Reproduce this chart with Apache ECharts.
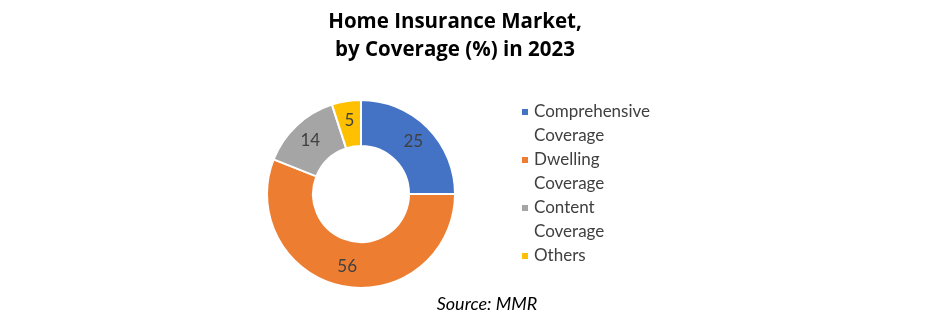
<!DOCTYPE html>
<html><head><meta charset="utf-8">
<script src="https://cdn.jsdelivr.net/npm/echarts@6/dist/echarts.min.js"></script>
<style>html,body{margin:0;padding:0;background:#fff}#c{width:940px;height:324px}</style>
</head><body><div id="c"></div>
<script>
const categories = ['Comprehensive Coverage', 'Dwelling Coverage', 'Content Coverage', 'Others'];
const values = [25, 56, 14, 5];
const colors = ['#4472C4', '#ED7D31', '#A5A5A5', '#FFC000'];
const titleText = 'Home Insurance Market,\nby Coverage (%) in 2023';
const sourceText = 'Source: MMR';

const FONT = 'Lato';
const chart = echarts.init(document.getElementById('c'), null, {renderer: 'canvas'});
chart.setOption({
  animation: false,
  backgroundColor: '#ffffff',
  color: colors,
  title: [{
    text: titleText,
    left: 450, top: 3, textAlign: 'center',
    textStyle: {fontFamily: 'Open Sans', fontWeight: 'bold', fontSize: 20.5, lineHeight: 28, color: '#000'}
  }, {
    text: sourceText,
    left: 482, top: 290, textAlign: 'center',
    textStyle: {fontFamily: FONT, fontStyle: 'italic', fontWeight: 'normal', fontSize: 18, color: '#000'}
  }],
  legend: {
    orient: 'vertical', left: 520, top: 76, padding: 0,
    itemWidth: 8, itemHeight: 8, itemGap: -24, icon: 'rect',
    data: categories,
    formatter: function (n) {
      const i = n.indexOf(' ');
      return i >= 0 ? ' \n' + n.slice(0, i) + '\n' + n.slice(i + 1) : ' \n' + n + '\n ';
    },
    textStyle: {fontFamily: FONT, fontSize: 17, lineHeight: 24, color: '#404040'}
  },
  series: [{
    type: 'pie',
    center: [361, 194],
    radius: [48, 94],
    startAngle: 90,
    clockwise: true,
    itemStyle: {borderColor: '#fff', borderWidth: 2},
    label: {show: true, position: 'inside', formatter: '{c}', fontFamily: FONT, fontSize: 17, color: '#404040'},
    labelLine: {show: false},
    emphasis: {disabled: true},
    data: categories.map(function (c, i) { return {name: c, value: values[i]}; })
  }]
});
</script></body></html>
